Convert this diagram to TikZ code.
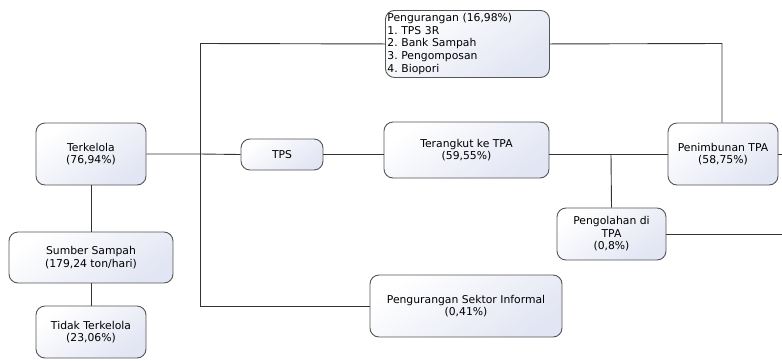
\documentclass[tikz,border=0pt]{standalone}
\usepackage{fontspec}
\setmainfont{DejaVu Sans}
\usepackage{tikz}
\usetikzlibrary{positioning}
\definecolor{boxline}{RGB}{85,85,85}
\definecolor{boxfill}{RGB}{226,229,243}
\frenchspacing

\begin{document}
\begin{tikzpicture}[x=1pt,y=1pt,yscale=-1,xscale=1,
  flowbox/.style={draw=boxline,line width=0.9pt,rounded corners=9pt,
    top color=white,bottom color=boxfill,shading angle=35,
    align=center,inner sep=2pt,font=\fontsize{10.8}{12.6}\selectfont},
  link/.style={draw=black!80,line width=0.9pt}]
\useasboundingbox (0,0) rectangle (782,360);

% Boxes
\node [flowbox,minimum width=164,minimum height=67,align=left,anchor=north west,text width=160,inner sep=1pt] (kurang) at (385,10) {Pengurangan (16,98\%)\\1. TPS 3R\\2. Bank Sampah\\3. Pengomposan\\4. Biopori};
\node [flowbox,minimum width=110,minimum height=62] (kelola) at (91,154) {Terkelola\\(76,94\%)};
\node [flowbox,minimum width=164,minimum height=51] (sumber) at (91,257.5) {Sumber Sampah\\(179,24 ton/hari)};
\node [flowbox,minimum width=110,minimum height=52] (tidak) at (91,332) {Tidak Terkelola\\(23,06\%)};
\node [flowbox,minimum width=82,minimum height=31] (tps) at (282,154.5) {TPS};
\node [flowbox,minimum width=165,minimum height=56] (angkut) at (466.5,150) {Terangkut ke TPA\\(59,55\%)};
\node [flowbox,minimum width=110,minimum height=62] (timbun) at (723,154) {Penimbunan TPA\\(58,75\%)};
\node [flowbox,minimum width=109,minimum height=52] (olah) at (611.5,234) {Pengolahan di\\TPA\\(0,8\%)};
\node [flowbox,minimum width=192,minimum height=62] (informal) at (466,306) {Pengurangan Sektor Informal\\(0,41\%)};

% Junction points
\coordinate (jtop) at (200,43.5);
\coordinate (jbot) at (200,306);
\coordinate (jmid) at (200,154);
\coordinate (jolah) at (611,154);
\coordinate (jright) at (722,43.5);
\coordinate (out1) at (782,154);
\coordinate (out2) at (782,234);

% Connectors
\draw [link] (kelola.south) -- (sumber.north);
\draw [link] (sumber.south) -- (tidak.north);
\draw [link] (kelola.east) -- (jmid) -- (tps.west);
\draw [link] (jtop) -- (jbot);
\draw [link] (jtop) -- (kurang.west);
\draw [link] (jbot) -- (informal.west);
\draw [link] (tps.east) -- (angkut.west |- tps.east);
\draw [link] (angkut.east |- jolah) -- (timbun.west);
\draw [link] (jolah) -- (olah.north);
\draw [link] (kurang.east) -- (jright) -- (jright |- timbun.north);
\draw [link] (timbun.east) -- (out1);
\draw [link] (olah.east) -- (out2);

\end{tikzpicture}
\end{document}
